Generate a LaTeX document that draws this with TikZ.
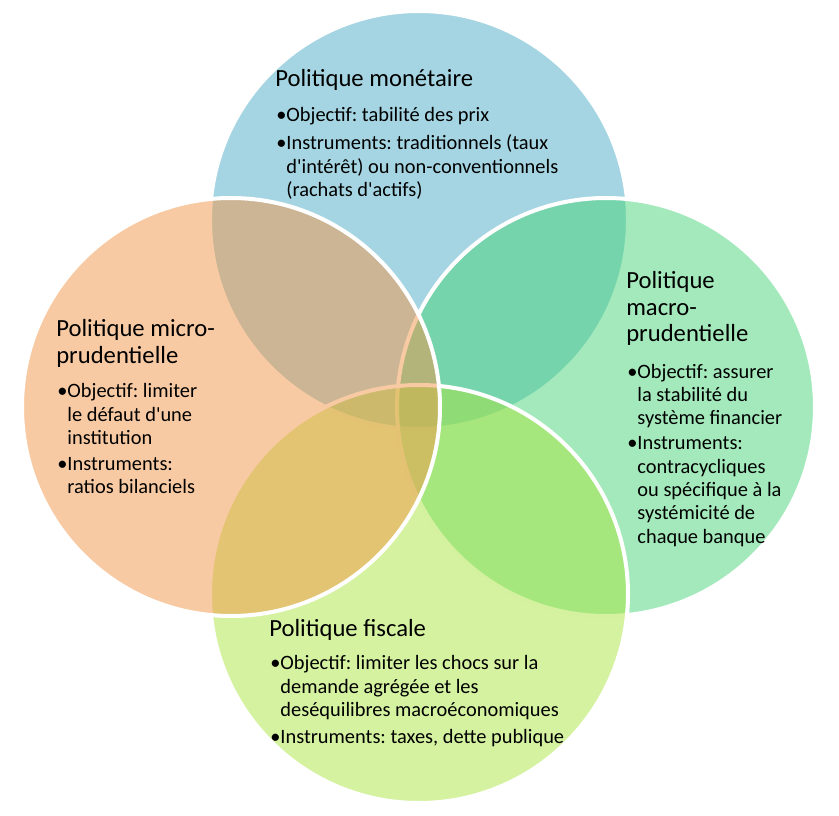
\documentclass[tikz,border=0pt]{standalone}
\usepackage{fontspec}
\setmainfont{Carlito}
\frenchspacing
\definecolor{monblue}{RGB}{75,172,198}
\definecolor{micorange}{RGB}{242,150,72}
\definecolor{macgreen}{RGB}{72,212,120}
\definecolor{fisgreen}{RGB}{170,229,65}
\newcommand{\hang}{\hphantom{•}}
\newcommand{\q}{\textquotesingle}
\begin{document}
\begin{tikzpicture}[x=0.75pt,y=-0.75pt,
    venn/.style={draw=white, line width=3pt, fill opacity=0.5},
    title/.style={anchor=base west, inner sep=0pt, align=left, font=\fontsize{18.5}{19.9}\selectfont},
    item/.style={anchor=base west, inner sep=0pt, align=left, font=\fontsize{15.3}{17.55}\selectfont}]
    \useasboundingbox (0,0) rectangle (839,816);
    %circles
    \coordinate (mon) at (419,220);
    \coordinate (mac) at (606,407);
    \coordinate (fis) at (419,594);
    \coordinate (mic) at (231,407);
    \draw[venn, fill=monblue] (mon) circle (209);
    \draw[venn, fill=macgreen] (mac) circle (209);
    \draw[venn, fill=fisgreen] (fis) circle (209);
    \draw[venn, fill=micorange] (mic) circle (209);

    %nodes (placed at the baseline of their last line)
    \node[title] (montitle) at (275,87) {Politique monétaire};
    \node[item] (monobj) at (276,121.7) {•Objectif: tabilité des prix};
    \node[item] (moninst) at (276,196.7) {•Instruments: traditionnels (taux\\\hang d\q intérêt) ou non-conventionnels\\\hang (rachats d\q actifs)};

    \node[title] (mictitle) at (56,363.3) {Politique micro-\\prudentielle};
    \node[item] (micobj) at (57,444.7) {•Objectif: limiter\\\hang le défaut d\q une\\\hang institution};
    \node[item] (micinst) at (57,493.7) {•Instruments:\\\hang ratios bilanciels};

    \node[title] (mactitle) at (626,341.7) {Politique\\macro-\\prudentielle};
    \node[item] (macobj) at (627,425) {•Objectif: assurer\\\hang la stabilité du\\\hang système financier};
    \node[item] (macinst) at (627,543.3) {•Instruments:\\\hang contracycliques\\\hang ou spécifique à la\\\hang systémicité de\\\hang chaque banque};

    \node[title] (fistitle) at (269,636) {Politique fiscale};
    \node[item] (fisobj) at (270,716.7) {•Objectif: limiter les chocs sur la\\\hang demande agrégée et les\\\hang deséquilibres macroéconomiques};
    \node[item] (fisinst) at (270,743.3) {•Instruments: taxes, dette publique};
\end{tikzpicture}
\end{document}
